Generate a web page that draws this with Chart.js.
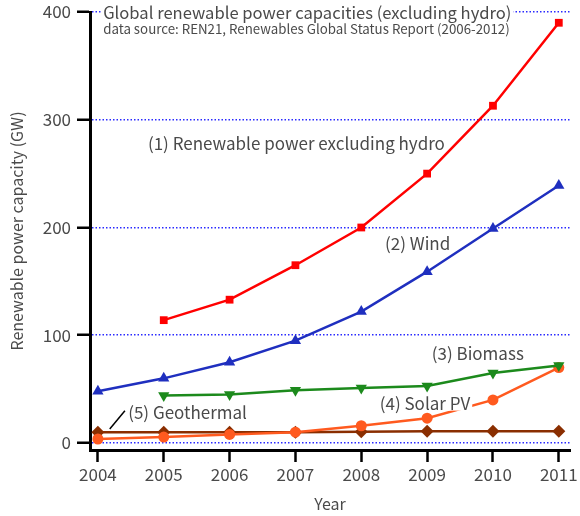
<!DOCTYPE html>
<html>
<head>
<meta charset="utf-8">
<script src="https://cdn.jsdelivr.net/npm/chart.js@4/dist/chart.umd.min.js"></script>
<style>
  html, body { margin: 0; padding: 0; background: #ffffff; }
  #wrap { width: 580px; height: 516px; }
</style>
</head>
<body>
<div id="wrap"><canvas id="cap"></canvas></div>
<script>
(function () {

// ---- data (GW) ------------------------------------------------------------------
var years      = [2004, 2005, 2006, 2007, 2008, 2009, 2010, 2011];
var renewable  = [null, 114, 133, 165, 200, 250, 313, 390];
var wind       = [48, 60, 75, 95, 122, 159, 199, 239];
var biomass    = [null, 44, 45, 49, 51, 53, 65, 72];
var solarPV    = [3.7, 5.5, 8, 10, 16, 23, 40, 70];
var geothermal = [10, 10, 10, 10, 10.5, 11, 11, 11];
var yTicks     = [0, 100, 200, 300, 400];

var FONT = "'Noto Sans CJK JP', 'Noto Sans', sans-serif";
var TXT = "#4a4a4a";

function pts(arr) {
    var out = [];
    for (var i = 0; i < years.length; i++) {
        if (arr[i] !== null) out.push({ x: years[i], y: arr[i] });
    }
    return out;
}

function series(label, arr, color, style, radius, rot) {
    return {
        label: label,
        data: pts(arr),
        borderColor: color,
        backgroundColor: color,
        borderWidth: 2.5,
        pointStyle: style,
        pointRadius: radius,
        pointRotation: rot || 0,
        pointBorderWidth: 0,
        tension: 0
    };
}

// text labels placed in data coordinates
var notes = [
    { text: "Global renewable power capacities (excluding hydro)", x: 2004.08, y: 399, size: 16.6 },
    { text: "data source: REN21, Renewables Global Status Report (2006-2012)", x: 2004.08, y: 384, size: 13.3 },
    { text: "(1) Renewable power excluding hydro", x: 2004.76, y: 278, size: 17 },
    { text: "(2) Wind", x: 2008.36, y: 185, size: 17 },
    { text: "(3) Biomass", x: 2009.07, y: 83, size: 17 },
    { text: "(4) Solar PV", x: 2008.28, y: 37, size: 17 },
    { text: "(5) Geothermal", x: 2004.46, y: 28, size: 17 }
];

var notePlugin = {
    id: 'notes',
    afterDatasetsDraw: function (chart) {
        var ctx = chart.ctx, xs = chart.scales.x, ys = chart.scales.y;
        ctx.save();
        // leader line for geothermal
        ctx.strokeStyle = "#000000";
        ctx.lineWidth = 1.5;
        ctx.beginPath();
        ctx.moveTo(xs.getPixelForValue(2004.18), ys.getPixelForValue(13));
        ctx.lineTo(xs.getPixelForValue(2004.41), ys.getPixelForValue(30));
        ctx.stroke();

        ctx.textBaseline = "middle";
        ctx.textAlign = "left";
        notes.forEach(function (n) {
            ctx.font = n.size + "px " + FONT;
            var px = xs.getPixelForValue(n.x), py = ys.getPixelForValue(n.y);
            var w = ctx.measureText(n.text).width;
            ctx.fillStyle = "#ffffff";
            ctx.fillRect(px - 2, py - n.size / 2 + 1, w + 4, n.size - 2);
            ctx.fillStyle = TXT;
            ctx.fillText(n.text, px, py);
        });
        ctx.restore();
    }
};

try {
    var canvas = document.getElementById("cap");
    var ctx = canvas.getContext("2d");

    new Chart(ctx, {
        type: 'line',
        data: {
            datasets: [
                series("(1) Renewable power excluding hydro", renewable, "#ff0000", "rect", 5.5),
                series("(2) Wind", wind, "#1f2fbf", "triangle", 6.5),
                series("(3) Biomass", biomass, "#1c8a1c", "triangle", 6.5, 180),
                series("(4) Solar PV", solarPV, "#ff5a1f", "circle", 5.5),
                series("(5) Geothermal", geothermal, "#8a2e00", "rectRot", 6.5)
            ]
        },
        options: {
            responsive: true,
            maintainAspectRatio: false,
            animation: false,
            layout: { padding: { left: 0, right: 10, top: 12, bottom: 0 } },
            plugins: {
                legend: { display: false },
                tooltip: { enabled: false }
            },
            scales: {
                x: {
                    type: 'linear',
                    min: 2003.88,
                    max: 2011.17,
                    afterBuildTicks: function (s) {
                        s.ticks = years.map(function (v) { return { value: v }; });
                    },
                    afterFit: function (s) { s.height = 66; },
                    grid: {
                        drawOnChartArea: false,
                        drawTicks: true,
                        tickLength: 12,
                        tickColor: "#000000",
                        tickWidth: 2.5
                    },
                    border: { display: true, color: "#000000", width: 3 },
                    ticks: {
                        color: TXT,
                        font: { family: FONT, size: 17 },
                        padding: 2,
                        maxRotation: 0,
                        callback: function (v) { return String(v); }
                    },
                    title: {
                        display: true,
                        text: "Year",
                        color: TXT,
                        font: { family: FONT, size: 16 },
                        padding: { top: 0, bottom: 2 }
                    }
                },
                y: {
                    min: -6.5,
                    max: 400,
                    afterBuildTicks: function (s) {
                        s.ticks = yTicks.map(function (v) { return { value: v }; });
                    },
                    afterFit: function (s) {
                        s.width = 90;
                        s.paddingTop = 0;
                        s.paddingBottom = 0;
                    },
                    grid: {
                        color: "#2a2aff",
                        lineWidth: 1.5,
                        drawTicks: true,
                        tickLength: 13,
                        tickColor: "#000000",
                        tickWidth: 2.5,
                        tickBorderDash: []
                    },
                    border: { display: true, color: "#000000", width: 3, dash: [1.5, 2] },
                    ticks: {
                        color: TXT,
                        font: { family: FONT, size: 17 },
                        padding: 6
                    },
                    title: {
                        display: true,
                        text: "Renewable power capacity (GW)",
                        color: TXT,
                        font: { family: FONT, size: 16 },
                        padding: { top: 7, bottom: 0 }
                    }
                }
            }
        },
        plugins: [notePlugin]
    });
} catch (e) {
    console.log("Error in capacity chart: " + e);
}

})();
</script>
</body>
</html>
